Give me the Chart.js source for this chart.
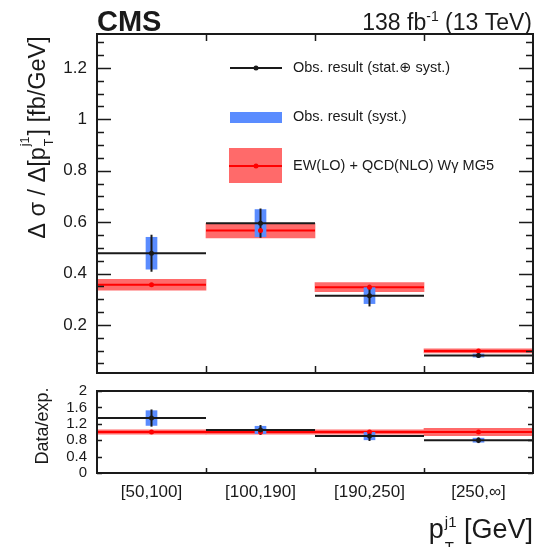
<!DOCTYPE html>
<html>
<head>
<meta charset="utf-8">
<script src="https://cdn.jsdelivr.net/npm/chart.js@4.4.0/dist/chart.umd.min.js"></script>
<style>
  body { margin: 0; background: #fff; }
  #wrap { position: relative; width: 551px; height: 547px; }
  #wrap canvas { position: absolute; left: 0; }
  #main { top: 0; }
  #ratio { top: 380px; }
</style>
</head>
<body>
<div id="wrap">
  <canvas id="main" width="551" height="380"></canvas>
  <canvas id="ratio" width="551" height="167"></canvas>
</div>
<script>
const categories = ['[50,100]', '[100,190]', '[190,250]', '[250,\u221e]'];
const binEdges = [0, 1, 2, 3, 4];
const binCenters = [0.5, 1.5, 2.5, 3.5];

// measured differential cross section [fb/GeV]
const obsVal = [0.479, 0.596, 0.314, 0.081];
const obsTotErr = [0.072, 0.057, 0.042, 0.009];
const obsSystErr = [0.062, 0.053, 0.031, 0.006];

// EW(LO) + QCD(NLO) prediction
const predVal = [0.356, 0.567, 0.347, 0.099];
const predErr = [0.021, 0.028, 0.018, 0.008];

// data / expectation
const ratioVal = [1.34, 1.05, 0.90, 0.80];
const ratioTotErr = [0.21, 0.12, 0.12, 0.07];
const ratioSystErr = [0.18, 0.09, 0.09, 0.05];
const ratioPredVal = [1, 1, 1, 1];
const ratioPredErr = [0.05, 0.05, 0.05, 0.09];

const yTicksMain = [0.2, 0.4, 0.6, 0.8, 1, 1.2];
const yTicksRatio = [0, 0.4, 0.8, 1.2, 1.6, 2];

const FONT = '"Liberation Sans", Arial, "DejaVu Sans", sans-serif';
const INK = '#1a1a1a';
const RED = '#ff0000';
const RED_BAND = '#ff6a6a';
const BLUE = '#5a8cff';

Chart.defaults.font.family = FONT;
Chart.defaults.color = INK;

function segment(x0, x1, y0, y1, color, order) {
    return { type: 'line', data: [{ x: x0, y: y0 }, { x: x1, y: y1 }],
        borderColor: color, borderWidth: 2, pointRadius: 0, order: order };
}

function markers(vals, color, order) {
    return { type: 'line', showLine: false, data: binCenters.map((x, i) => ({ x: x, y: vals[i] })),
        pointRadius: 2.5, pointBackgroundColor: color, pointBorderWidth: 0, order: order };
}

function buildDatasets(val, totErr, systErr, pVal, pErr) {
    const ds = [];
    // prediction uncertainty band, full bin width
    ds.push({ type: 'bar', grouped: false, categoryPercentage: 1, barPercentage: 1,
        backgroundColor: RED_BAND, order: 10,
        data: binCenters.map((x, i) => ({ x: x, y: [pVal[i] - pErr[i], pVal[i] + pErr[i]] })) });
    binCenters.forEach((c, i) => ds.push(segment(binEdges[i], binEdges[i + 1], pVal[i], pVal[i], RED, 9)));
    // syst-only box
    ds.push({ type: 'bar', grouped: false, barThickness: 11,
        backgroundColor: BLUE, order: 8,
        data: binCenters.map((x, i) => ({ x: x, y: [val[i] - systErr[i], val[i] + systErr[i]] })) });
    binCenters.forEach((c, i) => {
        ds.push(segment(binEdges[i], binEdges[i + 1], val[i], val[i], INK, 7));
        ds.push(segment(c, c, val[i] - totErr[i], val[i] + totErr[i], INK, 7));
    });
    ds.push(markers(pVal, RED, 6));
    ds.push(markers(val, INK, 5));
    return ds;
}

// frame plus inward ticks, ROOT style
function framePlugin(cfg) {
    return {
        id: 'frame',
        afterDraw(chart) {
            const { ctx, chartArea: a, scales: { x, y } } = chart;
            ctx.save();
            ctx.strokeStyle = INK;
            ctx.lineWidth = 1.5;
            ctx.beginPath();
            const n = Math.round(cfg.major / cfg.minor);
            for (let k = Math.ceil(y.min / cfg.minor - 1e-6); k * cfg.minor <= y.max + 1e-6; k++) {
                const py = Math.round(y.getPixelForValue(k * cfg.minor)) + 0.5;
                const len = k % n === 0 ? cfg.majorLen : cfg.minorLen;
                if (!len) continue;
                ctx.moveTo(a.left, py); ctx.lineTo(a.left + len, py);
                ctx.moveTo(a.right, py); ctx.lineTo(a.right - len, py);
            }
            binEdges.slice(1, -1).forEach(e => {
                const px = Math.round(x.getPixelForValue(e)) + 0.5;
                ctx.moveTo(px, a.bottom); ctx.lineTo(px, a.bottom - cfg.xLen);
                if (cfg.xTop) { ctx.moveTo(px, a.top); ctx.lineTo(px, a.top + cfg.xLen); }
            });
            ctx.stroke();
            ctx.lineWidth = 2;
            ctx.strokeRect(a.left, a.top, a.right - a.left, a.bottom - a.top);
            ctx.restore();
        }
    };
}

// stacked superscript / subscript
function scriptPair(ctx, x, y, sup, sub, size, up, down) {
    ctx.font = size + 'px ' + FONT;
    ctx.fillText(sup, x, y - up);
    ctx.fillText(sub, x, y + down);
    return Math.max(ctx.measureText(sup).width, ctx.measureText(sub).width);
}

const mainText = {
    id: 'mainText',
    afterDraw(chart) {
        const ctx = chart.ctx;
        ctx.save();
        ctx.fillStyle = INK;
        ctx.textBaseline = 'alphabetic';
        // header
        ctx.font = 'bold 29px ' + FONT;
        ctx.textAlign = 'left';
        ctx.fillText('CMS', 97, 31);
        const lumi = ['138 fb', '-1', ' (13 TeV)'];
        ctx.font = '23px ' + FONT;
        const w0 = ctx.measureText(lumi[0]).width, w2 = ctx.measureText(lumi[2]).width;
        ctx.font = '14px ' + FONT;
        const w1 = ctx.measureText(lumi[1]).width;
        let hx = 532 - (w0 + w1 + w2);
        ctx.font = '23px ' + FONT;
        ctx.fillText(lumi[0], hx, 30); hx += w0;
        ctx.font = '14px ' + FONT;
        ctx.fillText(lumi[1], hx, 21); hx += w1;
        ctx.font = '23px ' + FONT;
        ctx.fillText(lumi[2], hx, 30);

        // legend
        ctx.strokeStyle = INK; ctx.lineWidth = 2;
        ctx.beginPath(); ctx.moveTo(230, 68); ctx.lineTo(282, 68); ctx.stroke();
        ctx.beginPath(); ctx.arc(256, 68, 2.5, 0, Math.PI * 2); ctx.fill();
        ctx.fillStyle = BLUE;
        ctx.fillRect(230, 112, 52, 11);
        ctx.fillStyle = RED_BAND;
        ctx.fillRect(229, 148, 53, 35);
        ctx.strokeStyle = RED;
        ctx.beginPath(); ctx.moveTo(229, 166); ctx.lineTo(282, 166); ctx.stroke();
        ctx.fillStyle = RED;
        ctx.beginPath(); ctx.arc(256, 166, 2.5, 0, Math.PI * 2); ctx.fill();
        ctx.fillStyle = INK;
        ctx.font = '14.5px ' + FONT;
        ctx.textBaseline = 'middle';
        ctx.fillText('Obs. result (stat.\u2295 syst.)', 293, 68);
        ctx.fillText('Obs. result (syst.)', 293, 117);
        ctx.fillText('EW(LO) + QCD(NLO) W\u03b3 MG5', 293, 166);

        // y title, rotated
        ctx.textBaseline = 'alphabetic';
        const a = '\u0394 \u03c3 / \u0394[p', b = '] [fb/GeV]';
        ctx.font = '23.5px ' + FONT;
        const wa = ctx.measureText(a).width, wb = ctx.measureText(b).width;
        ctx.font = '12.5px ' + FONT;
        const ws = ctx.measureText('j1').width + 2;
        const total = wa + ws + wb;
        ctx.translate(45, 137.5 + total / 2);
        ctx.rotate(-Math.PI / 2);
        ctx.font = '23.5px ' + FONT;
        ctx.fillText(a, 0, 0);
        scriptPair(ctx, wa + 1, 0, 'j1', 'T', 12.5, 16, 8);
        ctx.font = '23.5px ' + FONT;
        ctx.fillText(b, wa + ws, 0);
        ctx.restore();
    }
};

const ratioText = {
    id: 'ratioText',
    afterDraw(chart) {
        const ctx = chart.ctx;
        ctx.save();
        ctx.fillStyle = INK;
        ctx.textBaseline = 'alphabetic';
        // x title
        const p = 'p', g = ' [GeV]';
        ctx.font = '27px ' + FONT;
        const wp = ctx.measureText(p).width, wg = ctx.measureText(g).width;
        ctx.font = '15px ' + FONT;
        const ws = ctx.measureText('j1').width + 1;
        let tx = 533 - (wp + ws + wg);
        ctx.font = '27px ' + FONT;
        ctx.fillText(p, tx, 158); tx += wp;
        scriptPair(ctx, tx + 1, 158, 'j1', 'T', 15, 11, 14);
        tx += ws;
        ctx.font = '27px ' + FONT;
        ctx.fillText(g, tx, 158);
        // ratio y title
        ctx.translate(48, 46);
        ctx.rotate(-Math.PI / 2);
        ctx.font = '18px ' + FONT;
        ctx.textAlign = 'center';
        ctx.fillText('Data/exp.', 0, 0);
        ctx.restore();
    }
};

function yAxis(min, max, ticks, size) {
    return {
        type: 'linear', min: min, max: max,
        grid: { display: false, drawTicks: false },
        border: { display: false },
        afterBuildTicks: s => { s.ticks = ticks.map(v => ({ value: v })); },
        // fixed axis width, no extra room for overhanging labels
        afterFit: s => { s.width = 97; s.paddingTop = 0; s.paddingBottom = 0; },
        ticks: { autoSkip: false, padding: 10, color: INK, font: { size: size },
                 callback: v => String(v) }
    };
}

new Chart(document.getElementById('main'), {
    type: 'bar',
    data: { datasets: buildDatasets(obsVal, obsTotErr, obsSystErr, predVal, predErr) },
    options: {
        responsive: false, animation: false, devicePixelRatio: 1,
        layout: { padding: { left: 0, right: 18, top: 34, bottom: 7 } },
        plugins: { legend: { display: false }, tooltip: { enabled: false } },
        scales: {
            x: { type: 'linear', min: 0, max: 4, offset: false, display: false,
                 afterBuildTicks: s => { s.ticks = binEdges.map(v => ({ value: v })); } },
            y: yAxis(0.013, 1.332, yTicksMain, 17)
        }
    },
    plugins: [framePlugin({ major: 0.2, minor: 0.05, majorLen: 14, minorLen: 7, xLen: 7, xTop: true }), mainText]
});

new Chart(document.getElementById('ratio'), {
    type: 'bar',
    data: { datasets: buildDatasets(ratioVal, ratioTotErr, ratioSystErr, ratioPredVal, ratioPredErr) },
    options: {
        responsive: false, animation: false, devicePixelRatio: 1,
        layout: { padding: { left: 0, right: 18, top: 11, bottom: 0 } },
        plugins: { legend: { display: false }, tooltip: { enabled: false } },
        scales: {
            x: { type: 'linear', min: 0, max: 4, offset: false,
                 grid: { display: false, drawTicks: false },
                 border: { display: false },
                 afterBuildTicks: s => { s.ticks = binCenters.map(v => ({ value: v })); },
                 afterFit: s => { s.height = 74; },
                 ticks: { autoSkip: false, maxRotation: 0, minRotation: 0, padding: 9, color: INK,
                          font: { size: 17 }, callback: (v, i) => categories[i] } },
            y: yAxis(0, 2, yTicksRatio, 15)
        }
    },
    plugins: [framePlugin({ major: 0.4, minor: 0.4, majorLen: 5, minorLen: 5, xLen: 5, xTop: false }), ratioText]
});
</script>
</body>
</html>
